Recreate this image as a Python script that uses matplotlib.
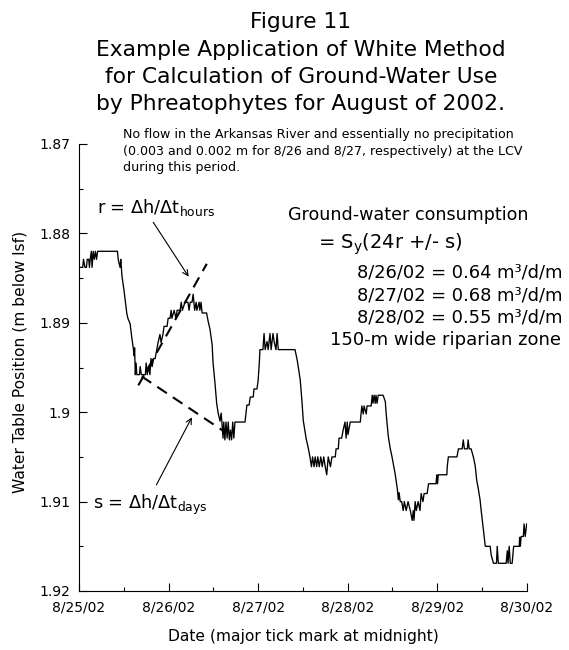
import matplotlib
matplotlib.use("Agg")
import matplotlib.pyplot as plt
from matplotlib.ticker import MultipleLocator, FixedLocator, FixedFormatter

# hours after midnight of 8/25/02 and water table position (m below lsf)
hours = [0.0, 1.0, 1.2, 1.6, 2.0, 2.2, 2.6, 2.8, 3.0, 3.3, 3.5, 3.8, 4.1, 4.4, 4.7, 5.0,
         10.3, 10.5, 11.0, 11.2, 11.5, 12.1, 12.8, 13.1, 13.7, 14.1, 14.6, 14.8, 14.9,
         15.1, 15.3, 15.5, 16.2, 16.4, 16.7, 17.8, 18.0, 18.3, 18.7, 19.0, 19.3, 19.6,
         20.0, 20.4, 20.8, 21.2, 21.7, 22.0, 22.5, 22.8, 23.6, 23.9, 24.4, 24.7, 24.9,
         25.5, 26.0, 26.3, 27.1, 27.4, 27.7, 28.4, 29.2, 29.5, 29.8, 30.3, 30.6, 31.0,
         31.4, 31.6, 32.2, 32.4, 32.7, 33.0, 34.2, 34.6, 35.1, 35.7, 35.9, 36.5, 36.9,
         37.3, 37.8, 38.1, 38.3, 38.6, 38.8, 39.1, 39.4, 39.7, 40.0, 40.3, 40.6, 40.9,
         41.2, 41.5, 41.8, 44.5, 45.0, 45.6, 45.9, 46.7, 46.9, 47.7, 48.0, 48.3, 48.5,
         49.3, 49.6, 49.9, 50.4, 50.7, 51.2, 51.5, 52.0, 52.3, 52.8, 53.1, 53.4, 57.9,
         58.5, 59.3, 59.8, 60.1, 60.9, 61.4, 61.9, 62.3, 62.6, 63.0, 63.3, 63.7, 64.0,
         64.4, 64.8, 65.2, 65.6, 66.0, 66.4, 66.8, 67.4, 67.8, 68.7, 68.9, 69.5, 69.7,
         70.4, 70.8, 71.3, 71.6, 71.9, 72.1, 72.7, 75.4, 75.8, 76.2, 76.4, 77.0, 77.2,
         78.3, 78.6, 78.8, 79.1, 79.4, 79.6, 79.9, 80.2, 81.5, 82.1, 82.3, 82.9, 83.4,
         83.9, 84.7, 85.3, 85.6, 85.8, 86.1, 86.5, 86.9, 87.2, 87.7, 88.2, 88.8, 89.3,
         89.6, 89.8, 90.1, 90.4, 90.9, 91.4, 91.7, 92.2, 92.5, 93.3, 93.7, 95.7, 95.9,
         96.1, 96.3, 98.6, 98.7, 99.0, 101.3, 101.7, 102.7, 103.0, 103.3, 104.1, 104.3,
         104.6, 105.1, 105.7, 106.2, 106.6, 107.0, 107.5, 107.8, 108.4, 108.9, 110.2,
         110.5, 111.1, 111.9, 112.1, 112.4, 114.5, 114.8, 115.0, 115.3, 115.6, 116.1,
         116.5, 118.0, 118.1, 118.3, 118.5, 119.1, 119.3, 119.6, 120.0]
depth = [1.8838, 1.8838, 1.8829, 1.8838, 1.8838, 1.8829, 1.8829, 1.8838, 1.8829, 1.8820,
         1.8838, 1.8820, 1.8829, 1.8820, 1.8829, 1.8820,
         1.8820, 1.8829, 1.8838, 1.8829, 1.8847, 1.8865, 1.8889, 1.8895, 1.8901, 1.8915,
         1.8930, 1.8937, 1.8928, 1.8958, 1.8945, 1.8958, 1.8958, 1.8949, 1.8958, 1.8958,
         1.8945, 1.8958, 1.8949, 1.8958, 1.8940, 1.8949, 1.8940, 1.8940, 1.8931, 1.8922,
         1.8913, 1.8922, 1.8913, 1.8904, 1.8904, 1.8895, 1.8895, 1.8886, 1.8895, 1.8886,
         1.8895, 1.8886, 1.8886, 1.8877, 1.8886, 1.8877, 1.8877, 1.8886, 1.8877, 1.8877,
         1.8868, 1.8886, 1.8877, 1.8886, 1.8877, 1.8886, 1.8877, 1.8889, 1.8889, 1.8898,
         1.8907, 1.8925, 1.8943, 1.8970, 1.8990, 1.9001, 1.9010, 1.9001, 1.9011, 1.9029,
         1.9011, 1.9031, 1.9011, 1.9029, 1.9011, 1.9031, 1.9020, 1.9031, 1.9011, 1.9029,
         1.9011, 1.9011, 1.8992, 1.8992, 1.8983, 1.8983, 1.8974, 1.8974, 1.8965, 1.8947,
         1.8930, 1.8930, 1.8912, 1.8930, 1.8921, 1.8930, 1.8912, 1.8930, 1.8912, 1.8921,
         1.8930, 1.8912, 1.8930, 1.8930, 1.8942, 1.8964, 1.8990, 1.9009, 1.9030, 1.9039,
         1.9050, 1.9061, 1.9050, 1.9061, 1.9050, 1.9061, 1.9050, 1.9061, 1.9050, 1.9061,
         1.9050, 1.9061, 1.9070, 1.9050, 1.9061, 1.9050, 1.9050, 1.9041, 1.9041, 1.9029,
         1.9029, 1.9020, 1.9011, 1.9029, 1.9011, 1.9025, 1.9011, 1.9011, 1.8993, 1.9002,
         1.8993, 1.9002, 1.8993, 1.8993, 1.8981, 1.8990, 1.8981, 1.8990, 1.8981, 1.8990,
         1.8981, 1.8981, 1.8988, 1.9000, 1.9027, 1.9040, 1.9050, 1.9068, 1.9085, 1.9098,
         1.9090, 1.9100, 1.9100, 1.9110, 1.9100, 1.9110, 1.9100, 1.9110, 1.9121, 1.9110,
         1.9121, 1.9100, 1.9110, 1.9100, 1.9110, 1.9091, 1.9100, 1.9091, 1.9091, 1.9080,
         1.9080, 1.9070, 1.9080, 1.9070, 1.9070, 1.9061, 1.9050, 1.9050, 1.9041, 1.9041,
         1.9031, 1.9041, 1.9041, 1.9031, 1.9041, 1.9041, 1.9050, 1.9060, 1.9076, 1.9085,
         1.9098, 1.9110, 1.9132, 1.9150, 1.9150, 1.9160, 1.9169, 1.9169, 1.9150, 1.9169,
         1.9169, 1.9155, 1.9169, 1.9150, 1.9169, 1.9169, 1.9150, 1.9150, 1.9140, 1.9150,
         1.9139, 1.9139, 1.9125, 1.9139, 1.9125]

# tangent lines drawn on the hydrograph: (hours, depth) end points
r_line_h = [15.9, 34.25]
r_line_d = [1.8970, 1.8834]
s_line_h = [16.8, 38.7]
s_line_d = [1.8960, 1.9021]

day_labels = ["8/25/02", "8/26/02", "8/27/02", "8/28/02", "8/29/02", "8/30/02"]
y_ticks = [1.87, 1.88, 1.89, 1.90, 1.91, 1.92]
y_labels = ["1.87", "1.88", "1.89", "1.9", "1.91", "1.92"]

title_lines = ["Figure 11",
               "Example Application of White Method",
               "for Calculation of Ground-Water Use",
               "by Phreatophytes for August of 2002."]
note = ("No flow in the Arkansas River and essentially no precipitation\n"
        "(0.003 and 0.002 m for 8/26 and 8/27, respectively) at the LCV\n"
        "during this period.")
rates = ["8/26/02 = 0.64 m\u00b3/d/m",
         "8/27/02 = 0.68 m\u00b3/d/m",
         "8/28/02 = 0.55 m\u00b3/d/m"]

W, H = 569, 650
fig = plt.figure(figsize=(W / 100, H / 100), dpi=100)
ax = fig.add_axes([79 / W, 1 - 591 / H, (526.7 - 79) / W, (591 - 144) / H])


def fx(px):
    return px / W


def fy(py):
    return 1 - py / H


days = [h / 24 for h in hours]
ax.plot(days, depth, color="black", lw=0.95)
ax.plot([h / 24 for h in r_line_h], r_line_d, color="black", lw=1.5, ls=(0, (5.5, 3.5)))
ax.plot([h / 24 for h in s_line_h], s_line_d, color="black", lw=1.5, ls=(0, (5.5, 3.5)))

ax.set_xlim(0, 5)
ax.set_ylim(1.92, 1.87)
ax.xaxis.set_major_locator(FixedLocator(range(6)))
ax.xaxis.set_major_formatter(FixedFormatter(day_labels))
ax.xaxis.set_minor_locator(MultipleLocator(0.5))
ax.yaxis.set_major_locator(FixedLocator(y_ticks))
ax.yaxis.set_major_formatter(FixedFormatter(y_labels))
ax.yaxis.set_minor_locator(MultipleLocator(0.005))
ax.tick_params(which="both", direction="in", width=0.8, labelsize=10)
ax.tick_params(which="major", length=6)
ax.tick_params(which="minor", length=3)
ax.tick_params(axis="y", pad=6)
ax.tick_params(axis="x", pad=7)
for side in ["top", "right"]:
    ax.spines[side].set_visible(False)
for side in ["left", "bottom"]:
    ax.spines[side].set_linewidth(0.8)

fig.text(fx(20), fy(362), "Water Table Position (m below lsf)", rotation=90,
         ha="center", va="center", fontsize=11.2)
fig.text(fx(303), fy(637), "Date (major tick mark at midnight)",
         ha="center", va="center", fontsize=11.2)

for i, line in enumerate(title_lines):
    fig.text(fx(301), fy(22 + 27.5 * i), line, ha="center", va="center", fontsize=15.7)

fig.text(fx(123), fy(128), note, ha="left", va="top", fontsize=9.1, linespacing=1.35)

# annotations for r and s
ax.text(fx(97), fy(207), r"r = $\Delta$h/$\Delta$t$_\mathregular{hours}$",
        transform=fig.transFigure, ha="left", va="center", fontsize=12.8)
ax.text(fx(93), fy(505), r"s = $\Delta$h/$\Delta$t$_\mathregular{days}$",
        transform=fig.transFigure, ha="left", va="center", fontsize=12.8)
ax.annotate("", xy=(29.8 / 24, 1.8851), xytext=(19.5 / 24, 1.8785),
            arrowprops=dict(arrowstyle="->", lw=0.8, color="black"))
ax.annotate("", xy=(30.6 / 24, 1.9003), xytext=(20.4 / 24, 1.9084),
            arrowprops=dict(arrowstyle="->", lw=0.8, color="black"))

fig.text(fx(288), fy(215), "Ground-water consumption", ha="left", va="center", fontsize=12.6)
fig.text(fx(318), fy(244), r"= S$_\mathregular{y}$(24r +/- s)", ha="left", va="center",
         fontsize=14)
for i, line in enumerate(rates):
    fig.text(fx(357), fy(273 + 22.5 * i), line, ha="left", va="center", fontsize=12.9)
fig.text(fx(330), fy(340), "150-m wide riparian zone", ha="left", va="center", fontsize=13)

fig.savefig("out.png", dpi=100, facecolor="white")
